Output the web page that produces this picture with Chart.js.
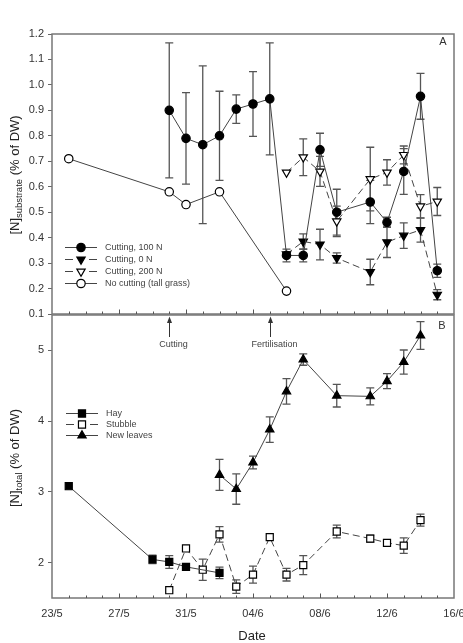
<!DOCTYPE html>
<html>
<head>
<meta charset="utf-8">
<script src="https://cdn.jsdelivr.net/npm/chart.js@4.4.1/dist/chart.umd.min.js"></script>
<style>
  html, body { margin: 0; padding: 0; background: #fff; }
  #wrap { position: relative; width: 463px; height: 643px; }
  canvas { position: absolute; left: 0; top: 0; }
</style>
</head>
<body>
<div id="wrap">
  <canvas id="chartA" width="463" height="320"></canvas>
  <canvas id="chartB" width="463" height="643"></canvas>
</div>
<script>
// x = days after 23/5
var tickDays = [0, 4, 8, 12, 16, 20, 24];
var dateLabels = ['23/5', '27/5', '31/5', '04/6', '08/6', '12/6', '16/6'];
var yATicks = [0.1, 0.2, 0.3, 0.4, 0.5, 0.6, 0.7, 0.8, 0.9, 1.0, 1.1, 1.2];
var yBTicks = [2, 3, 4, 5];

// panel A : [N]substrate
var cut100Days = [7, 8, 9, 10, 11, 12, 13, 14, 15, 16, 17, 19, 20, 21, 22, 23];
var cut100N   = [0.90, 0.79, 0.765, 0.80, 0.905, 0.925, 0.945, 0.33, 0.33, 0.745, 0.50, 0.54, 0.46, 0.66, 0.955, 0.27];
var cut100Err = [0.265, 0.18, 0.31, 0.175, 0.056, 0.127, 0.22, 0.025, 0.025, 0.065, 0.09, 0.085, 0.02, 0.09, 0.09, 0.026];

var cut0Days = [14, 15, 16, 17, 19, 20, 21, 22, 23];
var cut0N   = [0.335, 0.385, 0.373, 0.32, 0.265, 0.382, 0.408, 0.43, 0.176];
var cut0Err = [0, 0.03, 0.06, 0.02, 0.05, 0.06, 0.05, 0.048, 0.02];

var cut200Days = [14, 15, 16, 17, 19, 20, 21, 22, 23];
var cut200N   = [0.656, 0.716, 0.66, 0.464, 0.63, 0.656, 0.725, 0.523, 0.542];
var cut200Err = [0, 0.072, 0.059, 0.06, 0.125, 0.05, 0.035, 0.046, 0.055];

var noCutDays = [1, 7, 8, 10, 14];
var noCutN    = [0.71, 0.58, 0.53, 0.58, 0.19];

// panel B : [N]total
var hayDays = [1, 6, 7, 8, 10];
var hayN    = [3.08, 2.045, 2.01, 1.94, 1.855];
var hayErr  = [0, 0.06, 0.09, 0.03, 0.08];

var stubDays = [7, 8, 9, 10, 11, 12, 13, 14, 15, 17, 19, 20, 21, 22];
var stubN    = [1.61, 2.2, 1.9, 2.4, 1.66, 1.83, 2.36, 1.83, 1.965, 2.44, 2.34, 2.28, 2.24, 2.6];
var stubErr  = [0, 0.04, 0.15, 0.11, 0.095, 0.12, 0, 0.09, 0.135, 0.09, 0.05, 0.03, 0.11, 0.085];

var leafDays = [10, 11, 12, 13, 14, 15, 17, 19, 20, 21, 22];
var leafN    = [3.24, 3.04, 3.415, 3.88, 4.42, 4.87, 4.36, 4.35, 4.565, 4.835, 5.21];
var leafErr  = [0.22, 0.215, 0.09, 0.18, 0.18, 0.08, 0.16, 0.12, 0.105, 0.17, 0.195];

var eventDays = [7, 13];
var eventLabels = ['Cutting', 'Fertilisation'];

var FONT = "'Liberation Sans', Arial, sans-serif";
var radii = { circle: 4.2, triangle: 4.8, rect: 5 };

function series(days, vals, errs, label, style, filled, dashed, rot) {
    return {
        label: label,
        data: days.map(function (d, i) { return { x: d, y: vals[i] }; }),
        errors: errs,
        borderColor: '#444',
        borderWidth: 1,
        borderDash: dashed ? [7, 4] : [],
        pointStyle: style,
        pointRadius: radii[style],
        pointRotation: rot || 0,
        pointBackgroundColor: filled ? '#000' : '#fff',
        pointBorderColor: '#000',
        pointBorderWidth: 1.2,
        tension: 0,
        fill: false
    };
}

function drawErrorBars(chart) {
    var ctx = chart.ctx, ys = chart.scales.y;
    ctx.save();
    ctx.strokeStyle = '#555';
    ctx.lineWidth = 1.3;
    chart.data.datasets.forEach(function (ds, i) {
        if (!ds.errors) return;
        var meta = chart.getDatasetMeta(i);
        ds.errors.forEach(function (e, j) {
            if (!e) return;
            var px = meta.data[j].x, v = ds.data[j].y;
            var y1 = ys.getPixelForValue(v - e), y2 = ys.getPixelForValue(v + e);
            ctx.beginPath();
            ctx.moveTo(px, y1); ctx.lineTo(px, y2);
            ctx.moveTo(px - 4, y1); ctx.lineTo(px + 4, y1);
            ctx.moveTo(px - 4, y2); ctx.lineTo(px + 4, y2);
            ctx.stroke();
        });
    });
    ctx.restore();
}

function drawFrame(chart) {
    var ctx = chart.ctx, a = chart.chartArea, x = chart.scales.x;
    ctx.save();
    ctx.strokeStyle = '#777';
    ctx.lineWidth = 1.5;
    ctx.strokeRect(a.left, a.top, a.right - a.left, a.bottom - a.top);
    ctx.strokeStyle = '#555';
    ctx.lineWidth = 1;
    for (var d = 1; d < 24; d++) {
        var px = Math.round(x.getPixelForValue(d)) + 0.5;
        var len = d % 4 === 0 ? 4.5 : 2.5;
        ctx.beginPath();
        ctx.moveTo(px, a.bottom);
        ctx.lineTo(px, a.bottom - len);
        ctx.stroke();
    }
    ctx.restore();
}

function drawLegend(chart, x0, y0, step) {
    var ctx = chart.ctx;
    ctx.save();
    chart.data.datasets.forEach(function (ds, i) {
        var y = y0 + i * step;
        ctx.strokeStyle = '#444';
        ctx.lineWidth = 1;
        ctx.beginPath();
        if (ds.borderDash.length) {
            ctx.moveTo(x0, y); ctx.lineTo(x0 + 8, y);
            ctx.moveTo(x0 + 24, y); ctx.lineTo(x0 + 32, y);
        } else {
            ctx.moveTo(x0, y); ctx.lineTo(x0 + 32, y);
        }
        ctx.stroke();
        ctx.fillStyle = ds.pointBackgroundColor;
        ctx.strokeStyle = ds.pointBorderColor;
        ctx.lineWidth = ds.pointBorderWidth;
        Chart.helpers.drawPoint(ctx, {
            pointStyle: ds.pointStyle, radius: ds.pointRadius,
            rotation: ds.pointRotation, borderWidth: ds.pointBorderWidth
        }, x0 + 16, y);
        ctx.fillStyle = '#444';
        ctx.font = '9px ' + FONT;
        ctx.textBaseline = 'middle';
        ctx.textAlign = 'left';
        ctx.fillText(ds.label, x0 + 40, y);
    });
    ctx.restore();
}

function drawYTitle(ctx, cx, cy, main, sub, rest) {
    ctx.save();
    ctx.translate(cx, cy);
    ctx.rotate(-Math.PI / 2);
    ctx.fillStyle = '#222';
    ctx.textBaseline = 'middle';
    ctx.textAlign = 'left';
    var big = '13px ' + FONT, small = '9.5px ' + FONT;
    ctx.font = big; var w1 = ctx.measureText(main).width, w3 = ctx.measureText(rest).width;
    ctx.font = small; var w2 = ctx.measureText(sub).width;
    var x = -(w1 + w2 + w3) / 2;
    ctx.font = big; ctx.fillText(main, x, 0);
    ctx.font = small; ctx.fillText(sub, x + w1, 4);
    ctx.font = big; ctx.fillText(rest, x + w1 + w2, 0);
    ctx.restore();
}

// keep tick labels from pushing the plot area around
function noPad(s) { s.paddingLeft = 0; s.paddingRight = 0; s.paddingTop = 0; s.paddingBottom = 0; }

function yScale(min, max, list) {
    return {
        min: min, max: max,
        afterBuildTicks: function (s) { s.ticks = list.map(function (v) { return { value: v }; }); },
        afterFit: function (s) { s.width = 52; noPad(s); },
        ticks: {
            padding: 4, color: '#333', font: { family: FONT, size: 11 },
            callback: function (v) { return max < 2 ? v.toFixed(1) : String(v); }
        },
        grid: { drawOnChartArea: false, drawTicks: true, tickLength: 4, color: '#666' },
        border: { display: false }
    };
}

new Chart(document.getElementById('chartA'), {
    type: 'line',
    data: {
        datasets: [
            series(cut100Days, cut100N, cut100Err, 'Cutting, 100 N', 'circle', true, false, 0),
            series(cut0Days, cut0N, cut0Err, 'Cutting, 0 N', 'triangle', true, true, 180),
            series(cut200Days, cut200N, cut200Err, 'Cutting, 200 N', 'triangle', false, true, 180),
            series(noCutDays, noCutN, null, 'No cutting (tall grass)', 'circle', false, false, 0)
        ]
    },
    options: {
        responsive: false, animation: false, devicePixelRatio: 1,
        layout: { padding: { top: 34, right: 9, bottom: 5, left: 0 } },
        plugins: { legend: { display: false }, tooltip: { enabled: false } },
        scales: {
            x: { type: 'linear', min: 0, max: 24, display: false, afterFit: noPad },
            y: yScale(0.1, 1.2, yATicks)
        }
    },
    plugins: [{
        id: 'panelA',
        beforeDatasetsDraw: drawErrorBars,
        afterDraw: function (chart) {
            drawFrame(chart);
            drawLegend(chart, 65, 247.5, 12);
            var ctx = chart.ctx;
            ctx.save();
            ctx.fillStyle = '#333';
            ctx.font = '11px ' + FONT;
            ctx.textAlign = 'center';
            ctx.textBaseline = 'middle';
            ctx.fillText('A', 443, 42);
            ctx.restore();
            drawYTitle(ctx, 15, 175, '[N]', 'substrate', ' (% of DW)');
        }
    }]
});

new Chart(document.getElementById('chartB'), {
    type: 'line',
    data: {
        datasets: [
            series(hayDays, hayN, hayErr, 'Hay', 'rect', true, false, 0),
            series(stubDays, stubN, stubErr, 'Stubble', 'rect', false, true, 0),
            series(leafDays, leafN, leafErr, 'New leaves', 'triangle', true, false, 0)
        ]
    },
    options: {
        responsive: false, animation: false, devicePixelRatio: 1,
        layout: { padding: { top: 315, right: 9, bottom: 0, left: 0 } },
        plugins: { legend: { display: false }, tooltip: { enabled: false } },
        scales: {
            x: {
                type: 'linear', min: 0, max: 24,
                afterBuildTicks: function (s) { s.ticks = tickDays.map(function (v) { return { value: v }; }); },
                afterFit: function (s) { s.height = 45; noPad(s); },
                ticks: {
                    padding: 9, color: '#333', font: { family: FONT, size: 11 },
                    callback: function (v, i) { return dateLabels[i]; }
                },
                grid: { display: false, drawTicks: false },
                border: { display: false }
            },
            y: yScale(1.5, 5.5, yBTicks)
        }
    },
    plugins: [{
        id: 'panelB',
        beforeDatasetsDraw: drawErrorBars,
        afterDraw: function (chart) {
            drawFrame(chart);
            drawLegend(chart, 66, 413.5, 11);
            var ctx = chart.ctx, a = chart.chartArea, x = chart.scales.x;
            ctx.save();
            ctx.fillStyle = '#333';
            ctx.font = '11px ' + FONT;
            ctx.textAlign = 'center';
            ctx.textBaseline = 'middle';
            ctx.fillText('B', 442, 326);
            // event arrows
            ctx.strokeStyle = '#333';
            ctx.lineWidth = 1;
            eventDays.forEach(function (d, i) {
                var px = Math.round(x.getPixelForValue(d)) + 0.5;
                ctx.beginPath();
                ctx.moveTo(px, a.top + 6);
                ctx.lineTo(px, a.top + 22);
                ctx.stroke();
                ctx.beginPath();
                ctx.moveTo(px, a.top + 1.5);
                ctx.lineTo(px - 2.5, a.top + 8);
                ctx.lineTo(px + 2.5, a.top + 8);
                ctx.closePath();
                ctx.fill();
                ctx.fillStyle = '#444';
                ctx.font = '9px ' + FONT;
                ctx.fillText(eventLabels[i], px + 4, a.top + 30);
                ctx.fillStyle = '#333';
            });
            ctx.fillStyle = '#222';
            ctx.font = '13px ' + FONT;
            ctx.fillText('Date', 252, 636);
            ctx.restore();
            drawYTitle(ctx, 15, 458, '[N]', 'total', ' (% of DW)');
        }
    }]
});
</script>
</body>
</html>
